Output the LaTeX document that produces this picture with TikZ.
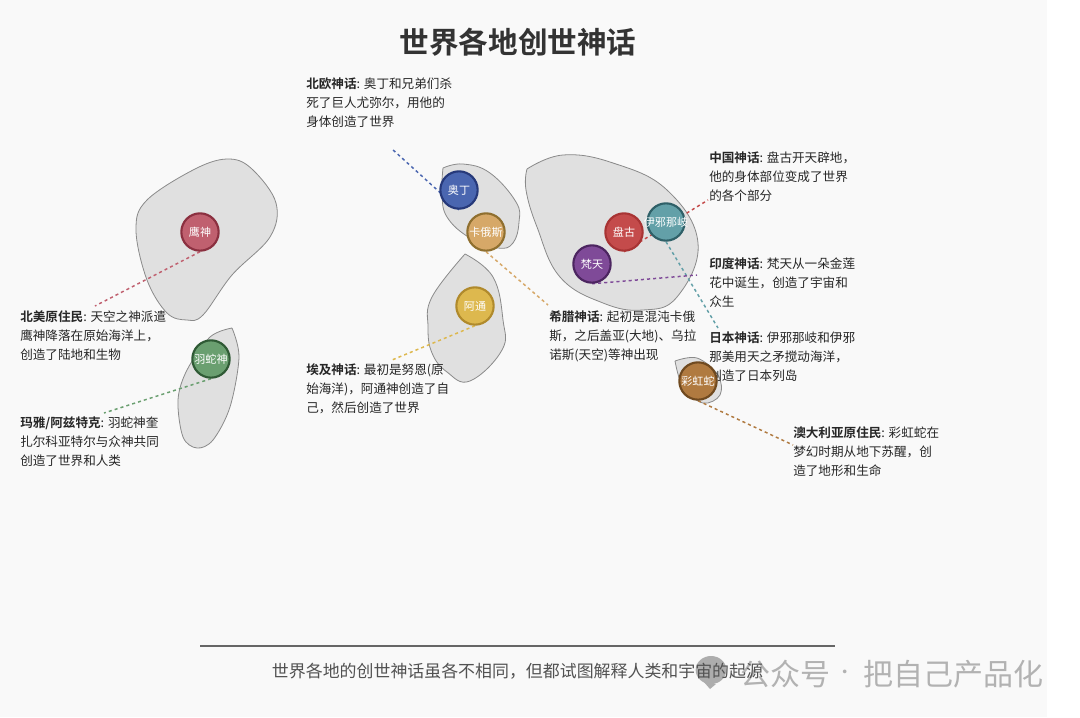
\documentclass[tikz,border=0pt]{standalone}
\usepackage{fontspec}
\setmainfont{Noto Sans CJK SC}[BoldFont={Noto Sans CJK SC Bold}]
\definecolor{bg}{HTML}{F9F9F9}
\definecolor{landfill}{HTML}{E0E0E0}
\definecolor{landline}{HTML}{8A8A8A}
\definecolor{cA}{HTML}{C0606F}\definecolor{cAd}{HTML}{8B3040}
\definecolor{cB}{HTML}{6A9F70}\definecolor{cBd}{HTML}{2F5A35}
\definecolor{cC}{HTML}{4A66B0}\definecolor{cCd}{HTML}{26397A}
\definecolor{cD}{HTML}{D6A868}\definecolor{cDd}{HTML}{8F6F2F}
\definecolor{cE}{HTML}{DDB84E}\definecolor{cEd}{HTML}{B08A2C}
\definecolor{cF}{HTML}{C44B4B}\definecolor{cFd}{HTML}{A83434}
\definecolor{cG}{HTML}{63A0A8}\definecolor{cGd}{HTML}{2F6068}
\definecolor{cH}{HTML}{7F4A98}\definecolor{cHd}{HTML}{4C2560}
\definecolor{cI}{HTML}{B07A40}\definecolor{cId}{HTML}{704A20}
\newcommand{\fitname}[1]{\makebox[0pt][c]{#1}}
\pgfdeclarelayer{landlayer}\pgfdeclarelayer{linklayer}\pgfdeclarelayer{textlayer}
\pgfsetlayers{landlayer,linklayer,textlayer,main}
\tikzset{
  land/.style={draw=landline,line width=0.6pt,fill=landfill,line join=miter},
  deity/.style={circle,minimum size=28pt,inner sep=0pt,line width=1.6pt,text=white,font=\fontsize{8.3}{10}\selectfont},
  lab/.style={anchor=west,align=left,inner sep=0pt,text=black!85,font=\fontsize{9.45}{14.25}\selectfont},
  link/.style={line width=1.1pt,dash pattern=on 2.3pt off 2.3pt},
  wm/.style={text=black!30,inner sep=0pt,font=\fontsize{22.5}{26}\selectfont}
}
\begin{document}
\begin{tikzpicture}[x=0.75pt,y=-0.75pt]
\useasboundingbox (0,0) rectangle (1080,717);
\begin{pgfonlayer}{landlayer}
\fill[white] (0,0) rectangle (1080,717);
\fill[bg] (0,0) rectangle (1047,717);
\draw[land] plot[smooth cycle,tension=.6] coordinates {(230,159)(253,170)(276,203)(270,237)(232,275)(203,315)(187,320)(167,313)(147,280)(136,230)(147,200)(197,168)};
\draw[land] plot[smooth,tension=.55] coordinates {(232,328)(239,357)(230,407)(213,440)(197,448)(183,437)(178,400)(187,370)(210,337)(232,328)};
\draw[land] plot[smooth,tension=.7] coordinates {(443,168)(463,164)(490,173)(516,202)(519,222)(513,243)(498,248)(470,238)(447,217)(442,193)(443,168)};
\draw[land] plot[smooth,tension=.7] coordinates {(465,254)(493,277)(503,320)(502,350)(470,381)(447,372)(432,353)(428,327)(432,297)(465,254)};
\draw[land] plot[smooth,tension=.7] coordinates {(527,169)(563,155)(613,163)(667,190)(698,243)(677,297)(643,310)(603,303)(560,277)(537,227)(526,190)(527,169)};
\draw[land] plot[smooth,tension=.6] coordinates {(675,361)(697,358)(718,375)(720,395)(703,403)(683,387)(675,361)};
\end{pgfonlayer}
% title
\node[inner sep=0pt,text=black!80,font=\fontsize{22.2}{26}\bfseries\selectfont] (title) at (518,42) {世界各地创世神话};
% deities
\node[deity,fill=cA,draw=cAd] (eagle) at (200,232) {\fitname{鹰神}};
\node[deity,fill=cB,draw=cBd] (snake) at (211,359) {\fitname{羽蛇神}};
\node[deity,fill=cC,draw=cCd] (odin) at (459,190) {\fitname{奥丁}};
\node[deity,fill=cD,draw=cDd] (chaos) at (486,232) {\fitname{卡俄斯}};
\node[deity,fill=cE,draw=cEd] (atum) at (475,306) {\fitname{阿通}};
\node[deity,fill=cF,draw=cFd] (pan) at (624,232) {\fitname{盘古}};
\node[deity,fill=cG,draw=cGd] (iza) at (666,222) {\fitname{伊邪那岐}};
\node[deity,fill=cH,draw=cHd] (brahma) at (592,264) {\fitname{梵天}};
\node[deity,fill=cI,draw=cId] (rainbow) at (698,381) {\fitname{彩虹蛇}};
% connectors
\coordinate (eaglefree) at (95,306);
\coordinate (snakefree) at (104,413);
\coordinate (odinfree) at (392,149);
\coordinate (chaosfree) at (548,305);
\coordinate (atumfree) at (392,360);
\coordinate (panfree) at (708,200);
\coordinate (izafree) at (718,328);
\coordinate (brahmafree) at (697,275);
\coordinate (rainbowfree) at (793,445);
\begin{pgfonlayer}{linklayer}
\draw[link,draw=cA] (eagle.south) -- (eaglefree);
\draw[link,draw=cB] (snake.south) -- (snakefree);
\draw[link,draw=cC] (odin.south) -- (odinfree);
\draw[link,draw=cD] (chaos.south) -- (chaosfree);
\draw[link,draw=cE] (atum.south) -- (atumfree);
\draw[link,draw=cF] (pan.south) -- (panfree);
\draw[link,draw=cG] (iza.south) -- (izafree);
\draw[link,draw=cH] (brahma.south) -- (brahmafree);
\draw[link,draw=cI] (rainbow.south) -- (rainbowfree);
\end{pgfonlayer}
% labels
\begin{pgfonlayer}{textlayer}
\node[lab] (na) at (20,336) {\textbf{北美原住民}: 天空之神派遣\\鹰神降落在原始海洋上，\\创造了陆地和生物};
\node[lab] (maya) at (20,442) {\textbf{玛雅/阿兹特克}: 羽蛇神奎\\扎尔科亚特尔与众神共同\\创造了世界和人类};
\node[lab] (norse) at (306,103) {\textbf{北欧神话}: 奥丁和兄弟们杀\\死了巨人尤弥尔，用他的\\身体创造了世界};
\node[lab] (egypt) at (306,389) {\textbf{埃及神话}: 最初是努恩(原\\始海洋)，阿通神创造了自\\己，然后创造了世界};
\node[lab] (greek) at (549,336) {\textbf{希腊神话}: 起初是混沌卡俄\\斯，之后盖亚(大地)、乌拉\\诺斯(天空)等神出现};
\node[lab] (china) at (709,177) {\textbf{中国神话}: 盘古开天辟地，\\他的身体部位变成了世界\\的各个部分};
\node[lab] (india) at (709,283) {\textbf{印度神话}: 梵天从一朵金莲\\花中诞生，创造了宇宙和\\众生};
\node[lab] (japan) at (709,357) {\textbf{日本神话}: 伊邪那岐和伊邪\\那美用天之矛搅动海洋，\\创造了日本列岛};
\node[lab] (aus) at (793,452) {\textbf{澳大利亚原住民}: 彩虹蛇在\\梦幻时期从地下苏醒，创\\造了地形和生命};
\end{pgfonlayer}
% footer
\coordinate (ruleL) at (200,646);
\coordinate (ruleR) at (835,646);
\draw[black!60,line width=1.7pt] (ruleL) -- (ruleR);
\fill[black!32] (711,670) ellipse (11.5pt and 10.5pt);
\fill[black!32] (703,681) -- (716,684) -- (710,689) -- cycle;
\node[wm,anchor=west] (wma) at (740,674) {公众号};
\node[wm,font=\fontsize{13}{15}\selectfont] (wmd) at (845,674) {·};
\node[wm,anchor=west] (wmb) at (863,674) {把自己产品化};
\node[inner sep=0pt,text=black!68,font=\fontsize{12.7}{15}\selectfont] (foot) at (517.5,671) {世界各地的创世神话虽各不相同，但都试图解释人类和宇宙的起源};
\end{tikzpicture}
\end{document}
